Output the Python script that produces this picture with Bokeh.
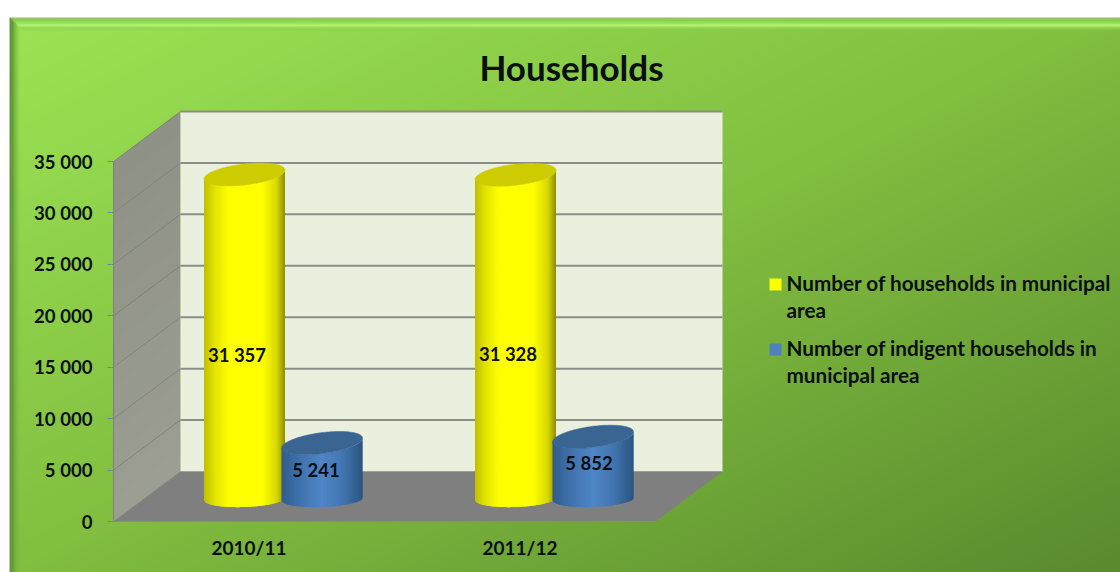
import numpy as np
from bokeh.embed import file_html
from bokeh.resources import INLINE
from bokeh.plotting import figure
from bokeh.core.properties import value
from bokeh.models import Range1d, FixedTicker

title_text = "Households"
categories = ["2010/11", "2011/12"]
series_names = ["Number of households in municipal\narea",
                "Number of indigent households in\nmunicipal area"]
households = [31357, 31328]
indigent = [5241, 5852]
value_labels_a = ["31 357", "31 328"]
value_labels_b = ["5 241", "5 852"]
y_ticks = [0, 5000, 10000, 15000, 20000, 25000, 30000, 35000]
y_tick_labels = ["0", "5 000", "10 000", "15 000", "20 000", "25 000", "30 000", "35 000"]

W, H = 1120, 572
OX, OY = 0, 0
Y0_PX, PX_PER_UNIT = 521.0, 360.0 / 35000.0
CAT0_PX, SLOT = 248.5, 271.0
DEPTH_X, DEPTH_Y = 67.0, 50.0
FONT = "Lato"
INK = "#0a0f14"


def X(px):
    return (px - CAT0_PX) / SLOT


def Y(py):
    return (Y0_PX - py) / PX_PER_UNIT


def dX(d):
    return d / SLOT


def dY(d):   # positive = up on screen
    return d / PX_PER_UNIT


p = figure(width=W, height=H, output_backend="svg", toolbar_location=None, tools="",
           x_range=Range1d(X(OX), X(OX + W)), y_range=Range1d(Y(OY + H), Y(OY)),
           min_border=0, min_border_left=0, min_border_right=0, min_border_top=0, min_border_bottom=0)
p.outline_line_color = None
p.grid.visible = False
p.background_fill_color = "white"
p.border_fill_color = "white"

# ---- panel background with diagonal gradient and bevel
pw, ph = 1120 - 9, 572 - 17
xx, yy = np.meshgrid(np.arange(pw, dtype=float), np.arange(ph, dtype=float))
t = (xx / pw * 0.5 + yy / ph * 0.5)
stops_t = [0.0, 0.5, 1.0]
rgb = np.stack([
    np.interp(t, stops_t, [155, 130, 88]),
    np.interp(t, stops_t, [228, 190, 138]),
    np.interp(t, stops_t, [84, 64, 46]),
], axis=-1)
# top bevel
top_prof_d = [0, 1, 2, 5, 7, 8, 11, 13]
top_col = [(168, 182, 112), (140, 205, 90), (132, 208, 80), (150, 226, 90), (182, 244, 112), (170, 236, 100), (140, 208, 80), (140, 208, 80)]
top_alpha = [1, 1, 0.9, 0.9, 1, 1, 0.6, 0]
# left bevel
left_prof_d = [0, 1, 3, 6, 10]
left_col = [(120, 140, 90), (92, 150, 50), (98, 160, 52), (108, 172, 58), (108, 172, 58)]
left_alpha = [1, 1, 0.9, 0.5, 0]
for j in range(14):
    for i in range(pw):
        if i >= j:
            a = np.interp(j, top_prof_d, top_alpha)
            c = np.array([np.interp(j, top_prof_d, [q[k] for q in top_col]) for k in range(3)])
            rgb[j, i] = rgb[j, i] * (1 - a) + c * a
for i in range(11):
    a = np.interp(i, left_prof_d, left_alpha)
    c = np.array([np.interp(i, left_prof_d, [q[k] for q in left_col]) for k in range(3)])
    mask = yy[:, i] >= i
    rgb[mask, i] = rgb[mask, i] * (1 - a) + c * a
img = np.zeros((ph, pw), dtype=np.uint32)
view = img.view(dtype=np.uint8).reshape((ph, pw, 4))
view[:, :, :3] = np.clip(rgb, 0, 255).astype(np.uint8)
view[:, :, 3] = 255
p.image_rgba(image=[img[::-1]], x=X(9), y=Y(572), dw=X(1120) - X(9), dh=Y(17) - Y(572))

# ---- 3-D box
left, right = -0.5, len(categories) - 0.5
dx, dy = dX(DEPTH_X), dY(DEPTH_Y)
ymax = y_ticks[-1]
bands = 16
levels = np.linspace(0, ymax, bands + 1)
for k in range(bands):
    f = (k + 0.5) / bands
    c = "#%02x%02x%02x" % tuple(int(round(a + (b - a) * f)) for a, b in zip((156, 158, 147), (142, 145, 134)))
    lo, hi = levels[k], levels[k + 1] + (dY(0.6) if k < bands - 1 else 0)
    p.patch([left, left + dx, left + dx, left], [lo, lo + dy, hi + dy, hi], fill_color=c, line_color=None)
p.patch([left + dx, right + dx, right + dx, left + dx], [dy, dy, ymax + dy, ymax + dy],
        fill_color="#eaf0dd", line_color=None)
p.patch([left, left + dx, right + dx, right], [0, dy, dy, 0],
        fill_color="#7f7f7f", line_color=None)
for v in y_ticks[1:]:
    p.line([left, left + dx], [v, v + dy], line_color="#7f8478", line_width=1)
    p.line([left + dx, right + dx], [v + dy, v + dy], line_color="#8c8c86", line_width=2)


# ---- cylinders
def mix(stops, u):
    pos = [s[0] for s in stops]
    return "#%02x%02x%02x" % tuple(int(round(np.interp(u, pos, [s[1][k] for s in stops]))) for k in range(3))


YELLOW = [(0, (190, 190, 0)), (0.12, (225, 225, 0)), (0.3, (255, 255, 0)), (0.72, (255, 255, 0)), (0.9, (215, 215, 0)), (1, (140, 140, 0))]
BLUE = [(0, (48, 92, 140)), (0.2, (62, 112, 170)), (0.5, (80, 134, 200)), (0.75, (66, 118, 178)), (1, (44, 84, 128))]
R, N, ROUND = 40.5, 90, 2.0


def arc(u):
    return (1 - np.abs(u) ** ROUND) ** (1 / ROUND)


def cylinder(i, off_px, v, stops, top_color, top_b, top_s):
    cx = i + dX(off_px)
    rx = dX(R)
    base = dY(22.5)      # base centre above axis zero
    top = v + dY(24.5)   # top centre
    b0, s0 = dY(8.0), dY(1.5)
    b1, s1 = dY(top_b), dY(top_s)
    u = np.linspace(-1, 1, N + 1)
    xs, ys, cols = [], [], []
    over = dX(0.8)
    for k in range(N):
        u0, u1 = u[k], u[k + 1]
        x0, x1 = cx + rx * u0, cx + rx * u1
        xe = x1 + (over if k < N - 1 else 0)
        xs.append([x0, xe, xe, x0])
        ys.append([base - b0 * arc(u0) + s0 * u0, base - b0 * arc(u1) + s0 * u1,
                   top - b1 * arc(u1) + s1 * u1, top - b1 * arc(u0) + s1 * u0])
        cols.append(mix(stops, (u0 + u1) / 4 + 0.5))
    p.patches(xs, ys, fill_color=cols, line_color=None)
    ang = np.linspace(0, 2 * np.pi, 145)
    p.patch(cx + rx * np.cos(ang), top - b1 * np.sin(ang) + s1 * np.cos(ang),
            fill_color=top_color, line_color=top_color, line_width=0.5)


OFF_A, OFF_B = -4.5, 73.0
for i in range(len(categories)):
    cylinder(i, OFF_A, households[i], YELLOW, "#cccc00", 10.5, 4.5)
    cylinder(i, OFF_B, indigent[i], BLUE, "#3a6593", 10.5, 5)

# ---- data labels
lab_kw = dict(text_font=value(FONT), text_font_style="bold", text_font_size="18.5px",
              text_color=INK, text_align="center", text_baseline="middle")
la_x = [i + dX(-12) for i in range(len(categories))]
la_y = [Y(354), Y(353)]
lb_x = [i + dX(67) for i in range(len(categories))]
lb_x[1] = 1 + dX(69)
lb_y = [Y(469.5), Y(462.5)]
p.text(la_x, la_y, text=value_labels_a, **lab_kw)
p.text(lb_x, lb_y, text=value_labels_b, **lab_kw)

# ---- title
p.text([X(571)], [Y(66)], text=[title_text], text_font=value(FONT), text_font_style="bold",
       text_font_size="35px", text_color=INK, text_align="center", text_baseline="middle")

# ---- axes
ya = p.yaxis[0]
ya.fixed_location = left
ya.bounds = (0, ymax)
ya.ticker = FixedTicker(ticks=y_ticks)
ya.major_label_overrides = dict(zip(y_ticks, y_tick_labels))
ya.major_label_text_font = FONT
ya.major_label_text_font_style = "bold"
ya.major_label_text_font_size = "18.6px"
ya.major_label_text_color = INK
ya.major_label_standoff = 15
ya.major_tick_out = 6
ya.major_tick_in = 0
ya.minor_tick_line_color = None
ya.major_tick_line_color = "#76869a"
ya.axis_line_color = "#808080"

xa = p.xaxis[0]
xa.fixed_location = 0
xa.bounds = (left, right)
xa.ticker = FixedTicker(ticks=list(range(len(categories))))
xa.major_label_overrides = dict(enumerate(categories))
xa.major_label_text_font = FONT
xa.major_label_text_font_style = "bold"
xa.major_label_text_font_size = "19px"
xa.major_label_text_color = INK
xa.major_label_standoff = 8
xa.major_tick_line_color = None
xa.minor_tick_line_color = None
xa.axis_line_color = "#7c9a5a"

# ---- legend (swatch sits beside the first line of each wrapped entry)
swatch_colors = ["#ffff00", "#4f81bd"]
first_line_px = [284.0, 349.0]
LINE_PITCH = 27.5
for name, col, y_px in zip(series_names, swatch_colors, first_line_px):
    p.quad(left=[X(769)], right=[X(781)], bottom=[Y(y_px + 6)], top=[Y(y_px - 6)],
           fill_color=col, line_color=None)
    for n, line in enumerate(name.split("\n")):
        p.text([X(786)], [Y(y_px + n * LINE_PITCH - 2)], text=[line], text_font=value(FONT),
               text_font_style="bold", text_font_size="20.7px", text_color=INK,
               text_align="left", text_baseline="middle")

open("out.html", "w").write(file_html(p, INLINE))
